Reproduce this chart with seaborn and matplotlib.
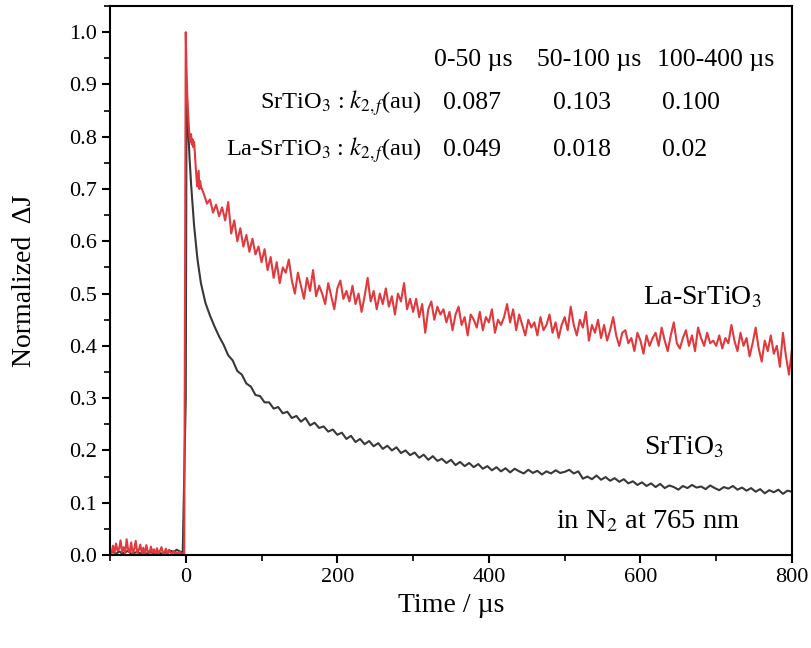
import numpy as np
import pandas as pd
import matplotlib
matplotlib.use("Agg")
import matplotlib.pyplot as plt
import seaborn as sns
from matplotlib.ticker import MultipleLocator

# time grids (µs)
t_red = np.concatenate([np.arange(-100, 0, 2), np.arange(0, 20, 1), np.arange(20, 801, 4)])
t_blk = np.concatenate([np.arange(-100, 0, 4), np.arange(0, 20, 1), np.arange(20, 801, 6)])

# La-SrTiO3 trace
la_srtio3 = [
    0.010, 0.002, 0.018, 0.004, 0.022, 0.008, 0.012, 0.028, 0.006, 0.015,
    0.003, 0.030, 0.010, 0.005, 0.024, 0.002, 0.012, 0.027, 0.004, 0.009,
    0.020, 0.003, 0.014, 0.001, 0.019, 0.006, 0.002, 0.016, 0.004, 0.011,
    0.001, 0.013, 0.003, 0.008, 0.015, 0.002, 0.006, 0.012, 0.001, 0.010,
    0.004, 0.002, 0.008, 0.001, 0.005, 0.002, 0.006, 0.001, 0.003, 0.002,
    1.000, 0.930, 0.880, 0.850, 0.820, 0.800, 0.790, 0.805, 0.785, 0.795,
    0.780, 0.790, 0.770, 0.745, 0.725, 0.705, 0.720, 0.735, 0.700, 0.715,
    0.705, 0.690, 0.672, 0.680, 0.655, 0.670, 0.648, 0.665, 0.640, 0.675,
    0.615, 0.640, 0.600, 0.625, 0.590, 0.612, 0.580, 0.605, 0.575, 0.590,
    0.560, 0.585, 0.545, 0.570, 0.530, 0.560, 0.520, 0.550, 0.540, 0.565,
    0.525, 0.500, 0.540, 0.515, 0.490, 0.530, 0.505, 0.545, 0.495, 0.515,
    0.500, 0.480, 0.520, 0.495, 0.470, 0.510, 0.525, 0.490, 0.505, 0.485,
    0.515, 0.480, 0.500, 0.465, 0.495, 0.530, 0.485, 0.505, 0.470, 0.500,
    0.480, 0.510, 0.475, 0.495, 0.460, 0.500, 0.485, 0.520, 0.470, 0.490,
    0.465, 0.490, 0.455, 0.480, 0.425, 0.470, 0.485, 0.450, 0.475, 0.460,
    0.470, 0.445, 0.465, 0.430, 0.460, 0.475, 0.440, 0.455, 0.420, 0.460,
    0.450, 0.435, 0.465, 0.430, 0.455, 0.445, 0.470, 0.425, 0.450, 0.440,
    0.455, 0.480, 0.445, 0.470, 0.430, 0.460, 0.440, 0.420, 0.450, 0.435,
    0.445, 0.420, 0.455, 0.430, 0.440, 0.460, 0.425, 0.445, 0.415, 0.440,
    0.455, 0.430, 0.475, 0.440, 0.420, 0.450, 0.435, 0.465, 0.410, 0.440,
    0.425, 0.450, 0.415, 0.440, 0.410, 0.430, 0.455, 0.420, 0.400, 0.425,
    0.430, 0.405, 0.415, 0.390, 0.425, 0.410, 0.385, 0.420, 0.400, 0.415,
    0.425, 0.400, 0.435, 0.410, 0.390, 0.420, 0.445, 0.405, 0.395, 0.415,
    0.430, 0.400, 0.420, 0.390, 0.435, 0.415, 0.400, 0.425, 0.405, 0.410,
    0.400, 0.420, 0.395, 0.415, 0.405, 0.440, 0.410, 0.390, 0.425, 0.400,
    0.415, 0.380, 0.405, 0.435, 0.395, 0.370, 0.410, 0.390, 0.420, 0.385,
    0.400, 0.360, 0.425, 0.380, 0.345, 0.395,
]

# SrTiO3 trace
srtio3 = [
    0.004, 0.006, 0.002, 0.007, 0.003, 0.005, 0.008, 0.002, 0.004, 0.006,
    0.003, 0.005, 0.002, 0.007, 0.004, 0.003, 0.006, 0.002, 0.005, 0.004,
    0.008, 0.006, 0.010, 0.007, 0.004,
    0.300, 0.870, 0.850, 0.820, 0.790, 0.760, 0.735, 0.710, 0.690, 0.670,
    0.650, 0.630, 0.615, 0.600, 0.585, 0.572, 0.560, 0.550, 0.540, 0.530,
    0.520, 0.482, 0.458, 0.437, 0.418, 0.402, 0.382, 0.372, 0.352, 0.345,
    0.328, 0.322, 0.306, 0.304, 0.292, 0.292, 0.280, 0.283, 0.271, 0.274,
    0.262, 0.266, 0.255, 0.262, 0.248, 0.253, 0.243, 0.246, 0.236, 0.240,
    0.230, 0.234, 0.222, 0.228, 0.216, 0.222, 0.212, 0.218, 0.208, 0.214,
    0.203, 0.209, 0.200, 0.206, 0.195, 0.200, 0.191, 0.196, 0.186, 0.192,
    0.182, 0.189, 0.180, 0.184, 0.176, 0.182, 0.172, 0.178, 0.170, 0.176,
    0.168, 0.174, 0.165, 0.170, 0.162, 0.168, 0.160, 0.166, 0.158, 0.165,
    0.160, 0.156, 0.163, 0.157, 0.161, 0.154, 0.160, 0.156, 0.162, 0.157,
    0.159, 0.163, 0.156, 0.160, 0.146, 0.150, 0.145, 0.152, 0.144, 0.149,
    0.142, 0.147, 0.140, 0.145, 0.137, 0.141, 0.134, 0.139, 0.132, 0.137,
    0.130, 0.136, 0.128, 0.133, 0.130, 0.125, 0.132, 0.128, 0.134, 0.129,
    0.131, 0.126, 0.133, 0.128, 0.124, 0.130, 0.127, 0.132, 0.125, 0.129,
    0.123, 0.128, 0.121, 0.126, 0.118, 0.124, 0.120, 0.125, 0.117, 0.123,
    0.121,
]

# rate-constant table
windows = ["0-50 µs", "50-100 µs", "100-400 µs"]
k_srtio3 = ["0.087", "0.103", "0.100"]
k_la_srtio3 = ["0.049", "0.018", "0.02"]

df = pd.concat([
    pd.DataFrame({"time": t_blk, "signal": srtio3, "sample": "SrTiO3"}),
    pd.DataFrame({"time": t_red, "signal": la_srtio3, "sample": "La-SrTiO3"}),
], ignore_index=True)

sns.set_theme(style="ticks")
plt.rcParams["font.family"] = ["Liberation Serif", "DejaVu Serif"]
plt.rcParams["mathtext.fontset"] = "stix"
plt.rcParams["text.color"] = "black"
plt.rcParams["axes.labelcolor"] = "black"

fig = plt.figure(figsize=(8.11, 6.48), dpi=100)
ax = fig.add_axes([0.1356, 0.1435, 0.841, 0.8472])

sns.lineplot(data=df, x="time", y="signal", hue="sample",
             hue_order=["SrTiO3", "La-SrTiO3"],
             palette={"SrTiO3": "#383838", "La-SrTiO3": "#e0393e"},
             estimator=None, sort=False, lw=1.5, legend=False, ax=ax)

ax.set_xlim(-100, 800)
ax.set_ylim(0, 1.05)
ax.xaxis.set_major_locator(MultipleLocator(200))
ax.xaxis.set_minor_locator(MultipleLocator(100))
ax.yaxis.set_major_locator(MultipleLocator(0.1))
ax.yaxis.set_minor_locator(MultipleLocator(0.05))
ax.set_xticks([0, 200, 400, 600, 800])
ax.tick_params(which="major", direction="out", length=6, width=1.5, labelsize=16, colors="black")
ax.tick_params(which="minor", direction="out", length=4, width=1.2, colors="black")
for s in ax.spines.values():
    s.set_linewidth(1.5)
    s.set_color("black")

ax.set_xlabel("Time / µs", fontsize=20, labelpad=4)
ax.set_ylabel("Normalized  ΔJ", fontsize=20, labelpad=23)

# table of k values
hx = [327, 464, 622]
vx = [339, 484, 629]
for h, x in zip(windows, hx):
    ax.text(x, 0.946, h, fontsize=18.5, va="center", ha="left")
ax.text(312, 0.864, "SrTiO$_3$ : $k_{2,f}$(au)", fontsize=17.6, va="center", ha="right")
ax.text(312, 0.774, "La-SrTiO$_3$ : $k_{2,f}$(au)", fontsize=17.6, va="center", ha="right")
for v1, v2, x in zip(k_srtio3, k_la_srtio3, vx):
    ax.text(x, 0.864, v1, fontsize=18.5, va="center", ha="left")
    ax.text(x, 0.774, v2, fontsize=18.5, va="center", ha="left")

ax.text(604, 0.493, "La-SrTiO$_3$", fontsize=20, va="center", ha="left")
ax.text(605, 0.205, "SrTiO$_3$", fontsize=20, va="center", ha="left")
ax.text(488, 0.063, "in N$_2$ at 765 nm", fontsize=20.5, va="center", ha="left")

fig.savefig("out.png", dpi=100)
